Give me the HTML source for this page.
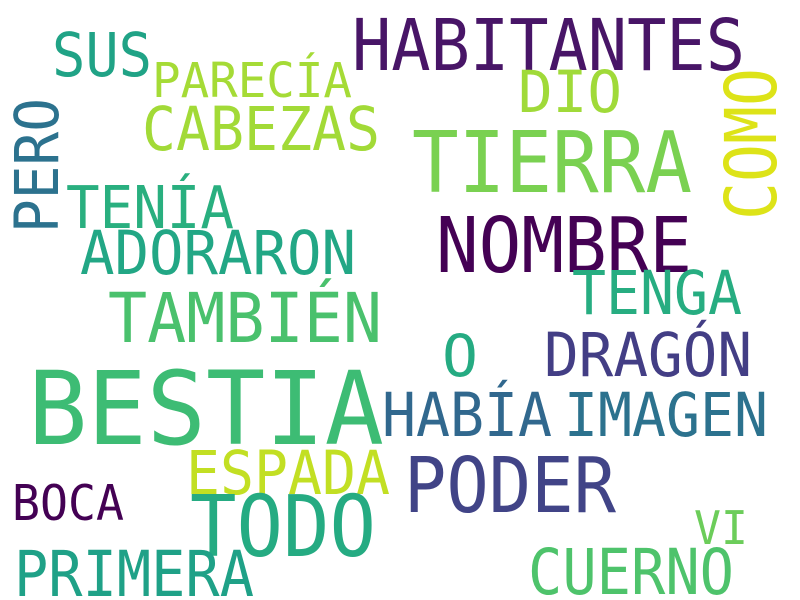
<!DOCTYPE html>
<html><head><meta charset="utf-8"><style>
html,body{margin:0;padding:0;background:#fff;}
svg{display:block;}
text{font-family:"DejaVu Sans Mono","Liberation Mono",monospace;}
</style></head><body>
<svg id="cloud" width="800" height="600" viewBox="0 0 800 600" xmlns="http://www.w3.org/2000/svg">
<rect width="800" height="600" fill="#fff"/>
</svg>
<script>
const words = ["HABITANTES","SUS","PARECÍA","DIO","COMO","CABEZAS","TIERRA","PERO","TENÍA","NOMBRE","ADORARON","TENGA","TAMBIÉN","O","DRAGÓN","BESTIA","HABÍA","IMAGEN","ESPADA","PODER","BOCA","TODO","VI","PRIMERA","CUERNO"];
const colors = ["#481567","#20a386","#a5db36","#a0da39","#dde318","#a2da37","#7ad151","#2c728e","#29af7f","#440154","#22a785","#27ad81","#4ac16d","#25ab82","#433e85","#3dbc74","#31688e","#2c728e","#c2df23","#414487","#440154","#25ab82","#6ccd5a","#1fa187","#4ec36b"];
// layout boxes: [left, top, right, bottom, vertical]
const boxes = [[352,18,745,70,0],[52,32,152,76,0],[152,62,352,97,0],[518,70,622,112,0],[724,68,776,220,1],[142,106,380,150,0],[412,130,692,192,0],[14,98,58,233,1],[66,185,234,228,0],[436,216,692,272,0],[80,230,356,274,0],[572,270,742,314,0],[108,292,382,342,0],[442,334,478,376,0],[544,332,752,376,0],[28,370,384,444,0],[382,392,552,436,0],[564,392,768,436,0],[186,450,390,494,0],[404,456,616,512,0],[12,484,124,520,0],[190,494,376,556,0],[694,510,748,544,0],[14,550,254,596,0],[528,548,734,594,0]];
const svg = document.getElementById('cloud');
const NS = 'http://www.w3.org/2000/svg';
words.forEach((w,i)=>{
  const [l,t,r,b,v] = boxes[i];
  const t1 = document.createElementNS(NS,'text');
  t1.textContent = w;
  
  
  t1.setAttribute('fill', colors[i]);
  let cap, len;
  if (v) { cap = r - l; len = b - t; t1.setAttribute('transform', `translate(${r},${b}) rotate(-90)`); t1.setAttribute('x',0); t1.setAttribute('y',0); }
  else { cap = b - t; len = r - l; t1.setAttribute('x', l); t1.setAttribute('y', b); }
  t1.setAttribute('font-size', (cap/0.729).toFixed(1));
  t1.setAttribute('textLength', len);
  t1.setAttribute('lengthAdjust', 'spacingAndGlyphs');
  svg.appendChild(t1);
});
</script>
</body></html>
